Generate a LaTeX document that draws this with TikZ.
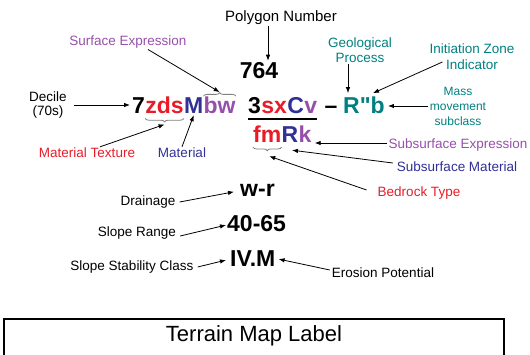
\documentclass[tikz,border=0pt]{standalone}
\usepackage{fontspec}
\setmainfont{Liberation Sans}
\newfontfamily\codefont{Liberation Sans}
\usetikzlibrary{arrows.meta,decorations.pathreplacing}
\definecolor{cred}{RGB}{232,28,40}
\definecolor{cpur}{RGB}{150,80,170}
\definecolor{cblue}{RGB}{48,48,150}
\definecolor{cteal}{RGB}{0,128,128}
\begin{document}
\begin{tikzpicture}[x=1pt,y=-1pt,
  lab/.style={font=\fontsize{13.5}{14}\selectfont, inner sep=1pt, align=center},
  code/.style={font=\codefont\fontsize{23}{24}\selectfont\bfseries, inner sep=0pt, anchor=base west},
  arr/.style={-{Latex[length=6pt,width=4.5pt]}, line width=0.8pt},
  brc/.style={decorate, decoration={brace,amplitude=3.5pt}, draw=gray, line width=0.8pt}]
\useasboundingbox (0,0) rectangle (530,355);
% polygon number
\node[lab, font=\fontsize{15}{16}\selectfont] (pn) at (281,18) {Polygon Number};
\node[code, anchor=base] (n764) at (259,79) {764};
% main row
\node[code] (c7) at (132,114) {7};
\node[code, text=cred] (zds) at (c7.base east) {zds};
\node[code, text=cblue] (M) at (zds.base east) {M};
\node[code, text=cpur] (bw) at (M.base east) {bw};
\node[code] (c3) at (248,114) {3};
\node[code, text=cred] (sx) at (c3.base east) {sx};
\node[code, text=cblue] (C) at (sx.base east) {C};
\node[code, text=cpur] (v) at (C.base east) {v};
\node[code, anchor=base] (dash) at (331,114) {–};
\node[code, text=cteal] (Rb) at (343,114) {R"b};
\draw[line width=1.2pt] ([yshift=-5]c3.base west) -- ([yshift=-5]v.base east);
% second row
\node[code, text=cred] (fm) at (253,143) {fm};
\node[code, text=cblue] (R2) at (fm.base east) {R};
\node[code, text=cpur] (k) at (R2.base east) {k};
% lower codes
\node[code] (wr) at (240,197) {w-r};
\node[code] (n4065) at (227,232) {40-65};
\node[code] (iv) at (230,267) {IV.M};
% braces
\draw[brc] ([yshift=1]bw.north west) -- ([yshift=1]bw.north east);
\coordinate (bwtip) at ([yshift=5]bw.north);
\draw[brc] ([yshift=-4]zds.south east) -- ([yshift=-4]zds.south west);
\coordinate (zdstip) at ([yshift=-10]zds.south);
\draw[brc] ([yshift=-4]fm.south east) -- ([yshift=-4]fm.south west);
\coordinate (fmtip) at ([xshift=2,yshift=-13]fm.south);
% labels
\node[lab, text=cpur] (se) at (128,42) {Surface Expression};
\node[lab] (dec) at (48,105) {Decile\\(70s)};
\node[lab, text=cred] (mt) at (87,153) {Material Texture};
\node[lab, text=cblue] (mat) at (182,153) {Material};
\node[lab, text=cteal, font=\fontsize{13.5}{15}\selectfont] (geo) at (360,50) {Geological\\Process};
\node[lab, text=cteal, font=\fontsize{13.5}{16}\selectfont] (iz) at (472,57) {Initiation Zone\\Indicator};
\node[lab, text=cteal, font=\fontsize{12}{15}\selectfont] (mm) at (458,106) {Mass\\movement\\subclass};
\node[lab, text=cpur] (sse) at (458,145) {Subsurface Expression};
\node[lab, text=cblue] (ssm) at (457,167) {Subsurface Material};
\node[lab, text=cred] (bt) at (419,193) {Bedrock Type};
\node[lab] (dr) at (148,202) {Drainage};
\node[lab] (sr) at (137,233) {Slope Range};
\node[lab] (ssc) at (132,267) {Slope Stability Class};
\node[lab] (ep) at (383,273) {Erosion Potential};
% arrows
\coordinate (t764) at ([xshift=9,yshift=2]n764.north);
\draw[arr] (pn.south -| t764) -- (t764);
\draw[arr] ([xshift=20]se.south) -- (bwtip);
\draw[arr] ([xshift=6]dec.east) -- ([xshift=-2]dec.east -| c7.west);
\draw[arr] ([xshift=13]mt.north) -- (zdstip);
\draw[arr] (mat.north) -- ([yshift=-1]M.south);
\coordinate (geot) at ([xshift=5,yshift=4]Rb.north west);
\draw[arr] (geo.south -| geot) -- (geot);
\draw[arr] ([xshift=14,yshift=-5]iz.west) -- ([xshift=-12,yshift=4]Rb.north east);
\draw[arr] ([xshift=-1]mm.west) -- ([xshift=3]mm.west -| Rb.east);
\draw[arr] ([yshift=2]sse.west) -- ([xshift=3,yshift=2]sse.west -| k.east);
\draw[arr] ([xshift=-3,yshift=4]ssm.west) -- ([xshift=2,yshift=-7]R2.south);
\draw[arr] ([xshift=-10,yshift=3]bt.west) -- (fmtip);
\draw[arr] ([xshift=3]dr.east) -- ([xshift=-6,yshift=-1]wr.west);
\draw[arr] ([xshift=3,yshift=-3]sr.east) -- ([xshift=-1,yshift=-1]n4065.west);
\draw[arr] ([xshift=3]ssc.east) -- ([xshift=-4,yshift=-1]iv.west);
\draw[arr] ([xshift=-1,yshift=3]ep.west) -- ([xshift=3]iv.east);
% bottom box
\node[font=\fontsize{22}{24}\selectfont] (tml) at (254,336) {Terrain Map Label};
\draw[line width=1.2pt] (4,358) -- (4,319) -- (504,319) -- (504,358);
\end{tikzpicture}
\end{document}
